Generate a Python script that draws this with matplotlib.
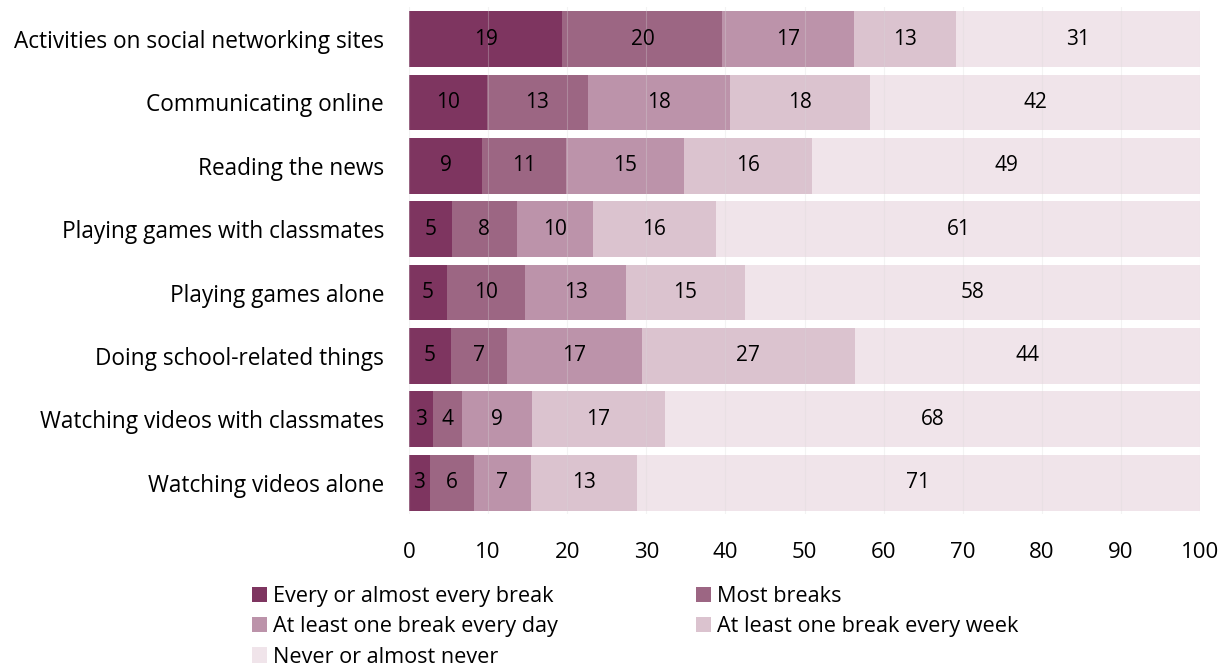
import matplotlib.pyplot as plt
import numpy as np

plt.rcParams["font.family"] = ["Open Sans", "DejaVu Sans"]

activities = [
    "Activities on social networking sites",
    "Communicating online",
    "Reading the news",
    "Playing games with classmates",
    "Playing games alone",
    "Doing school-related things",
    "Watching videos with classmates",
    "Watching videos alone",
]
series_names = [
    "Every or almost every break",
    "Most breaks",
    "At least one break every day",
    "At least one break every week",
    "Never or almost never",
]
every_break = [19.4, 9.8, 9.2, 5.4, 4.8, 5.3, 3.0, 2.6]
most_breaks = [20.2, 12.8, 10.6, 8.2, 9.9, 7.1, 3.7, 5.6]
every_day = [16.6, 18.0, 14.9, 9.6, 12.7, 17.0, 8.8, 7.2]
every_week = [12.9, 17.7, 16.3, 15.6, 15.1, 27.0, 16.8, 13.4]
never = [31.0, 41.7, 49.1, 61.3, 57.6, 43.6, 67.7, 71.2]
colors = ["#7e3560", "#9c6683", "#bc93aa", "#dbc3cf", "#f0e4ea"]

fig = plt.figure(figsize=(12.31, 6.68), dpi=100)
ax = fig.add_axes([0.3323, 0.230, 0.6425, 0.759])

y = np.arange(len(activities))
left = np.zeros(len(activities))
handles = []
for vals, name, c in zip(
    [every_break, most_breaks, every_day, every_week, never], series_names, colors
):
    vals = np.array(vals)
    bars = ax.barh(y, vals, left=left, height=0.88, color=c, label=name, zorder=2)
    handles.append(bars)
    for yi, l, v in zip(y, left, vals):
        ax.text(l + v / 2, yi, f"{v:.0f}", ha="center", va="center",
                fontsize=15, color="black", zorder=4)
    left += vals

ax.set_xlim(0, 100)
ax.set_ylim(len(activities) - 0.5, -0.5)
ax.set_yticks(y)
ax.set_yticklabels(activities, fontsize=16.3)
ax.set_xticks(np.arange(0, 101, 10))
ax.tick_params(axis="x", labelsize=16, length=0, pad=20)
ax.tick_params(axis="y", length=0, pad=18)
ax.xaxis.grid(True, color="#d9d9d9", linewidth=0.8, alpha=0.3, zorder=3)
ax.set_axisbelow(False)
for s in ax.spines.values():
    s.set_visible(False)

# row-wise legend order like the original
order = [0, 2, 4, 1, 3]
fig.legend(
    [handles[i] for i in order],
    [series_names[i] for i in order],
    loc="upper left",
    bbox_to_anchor=(0.196, 0.139),
    ncol=2,
    frameon=False,
    fontsize=15.6,
    handlelength=0.7,
    handleheight=0.7,
    handletextpad=0.25,
    columnspacing=6.4,
    labelspacing=0.43,
    borderpad=0,
)

fig.savefig("out.png", dpi=100)
